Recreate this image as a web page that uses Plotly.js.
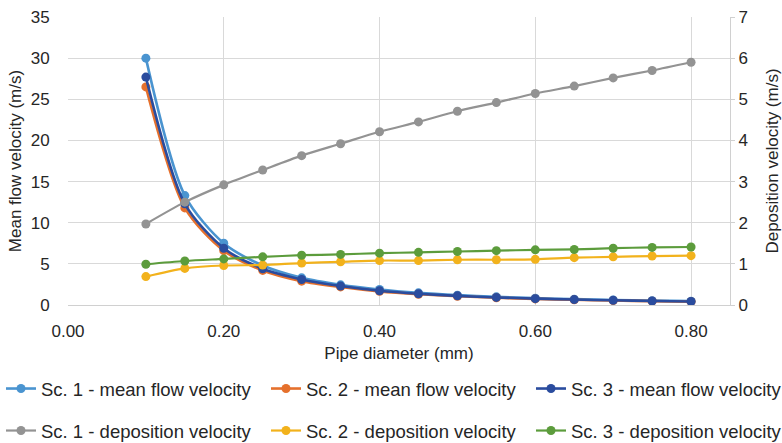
<!DOCTYPE html>
<html>
<head>
<meta charset="utf-8">
<script src="https://cdn.plot.ly/plotly-3.0.1.min.js"></script>
<style>
  html, body { margin: 0; padding: 0; background: #fff; }
  #chart { width: 782px; height: 443px; }
</style>
</head>
<body>
<div id="chart"></div>
<script>
// Pipe diameters (mm)
const diameter = [0.10, 0.15, 0.20, 0.25, 0.30, 0.35, 0.40, 0.45, 0.50, 0.55, 0.60, 0.65, 0.70, 0.75, 0.80];

// Mean flow velocity (m/s), left axis
const sc1Mean = [30.0, 13.3, 7.5, 4.8, 3.3, 2.45, 1.88, 1.48, 1.2, 0.99, 0.83, 0.71, 0.61, 0.53, 0.47];
const sc2Mean = [26.5, 11.8, 6.6, 4.2, 2.9, 2.2, 1.66, 1.31, 1.06, 0.88, 0.74, 0.63, 0.54, 0.47, 0.41];
const sc3Mean = [27.7, 12.3, 6.9, 4.4, 3.1, 2.3, 1.73, 1.37, 1.11, 0.92, 0.77, 0.66, 0.57, 0.49, 0.43];

// Deposition velocity (m/s), right axis
const sc1Dep = [1.97, 2.5, 2.92, 3.28, 3.63, 3.92, 4.21, 4.45, 4.71, 4.92, 5.14, 5.32, 5.52, 5.70, 5.90];
const sc2Dep = [0.69, 0.89, 0.96, 0.97, 1.02, 1.05, 1.08, 1.08, 1.10, 1.10, 1.11, 1.15, 1.17, 1.19, 1.20];
const sc3Dep = [0.99, 1.07, 1.12, 1.17, 1.21, 1.23, 1.26, 1.28, 1.30, 1.32, 1.34, 1.35, 1.38, 1.40, 1.41];

const xTicks = [0.0, 0.2, 0.4, 0.6, 0.8];

const FONT = 'Liberation Sans, Arial, sans-serif';
const TEXT = '#262626';

// Plot-area geometry in pixels (used to place the legend grid)
const W = 782, H = 443;
const M = { l: 68, r: 52, t: 17, b: 138 };
const plotW = W - M.l - M.r;
const plotH = H - M.t - M.b;

// Legend grid: three columns, two rows (pixel anchors)
const legendCols = [1, 266, 531];
const legendRows = [389, 431];

function series(name, y, color, axis, legend, width) {
  return {
    type: 'scatter', mode: 'lines+markers', name: name,
    x: diameter, y: y, yaxis: axis, legend: legend,
    line: { color: color, width: width, shape: 'spline', smoothing: 0.8 },
    marker: { color: color, size: 9 }
  };
}

const traces = [
  series('Sc. 1 - mean flow velocity', sc1Mean, '#4a94d0', 'y', 'legend', 2.6),
  series('Sc. 2 - mean flow velocity', sc2Mean, '#e5702c', 'y', 'legend2', 2.6),
  series('Sc. 3 - mean flow velocity', sc3Mean, '#2a4c9e', 'y', 'legend3', 2.6),
  series('Sc. 1 - deposition velocity', sc1Dep, '#939393', 'y2', 'legend4', 2.2),
  series('Sc. 2 - deposition velocity', sc2Dep, '#f2b21c', 'y2', 'legend5', 2.2),
  series('Sc. 3 - deposition velocity', sc3Dep, '#5c9c3c', 'y2', 'legend6', 2.2)
];

function legendAt(col, row) {
  return {
    orientation: 'h', xanchor: 'left', yanchor: 'middle',
    x: (legendCols[col] - M.l) / plotW,
    y: (H - M.b - legendRows[row]) / plotH,
    itemwidth: 30,
    font: { family: FONT, size: 18.5, color: TEXT },
    bgcolor: 'rgba(0,0,0,0)'
  };
}

const layout = {
  width: W, height: H,
  margin: { l: M.l, r: M.r, t: M.t, b: M.b, autoexpand: false },
  paper_bgcolor: '#fff', plot_bgcolor: '#fff',
  font: { family: FONT, size: 17, color: TEXT },
  showlegend: true,
  xaxis: {
    range: [0, 0.85], tickvals: xTicks, tickformat: '.2f',
    showgrid: true, gridcolor: '#d9d9d9', gridwidth: 1,
    zeroline: false, showline: true, linecolor: '#d0d0d0', linewidth: 1,
    ticks: 'outside', ticklen: 11, tickcolor: 'rgba(0,0,0,0)',
    tickfont: { family: FONT, size: 17, color: TEXT },
    title: { text: 'Pipe diameter (mm)', font: { family: FONT, size: 17, color: TEXT }, standoff: 6 }
  },
  yaxis: {
    range: [0, 35], dtick: 5,
    showgrid: true, gridcolor: '#d9d9d9', gridwidth: 1,
    zeroline: false, showline: false,
    ticks: 'outside', ticklen: 14, tickcolor: 'rgba(0,0,0,0)',
    tickfont: { family: FONT, size: 17, color: TEXT },
    title: { text: 'Mean flow velocity (m/s)', font: { family: FONT, size: 17, color: TEXT }, standoff: 4 }
  },
  yaxis2: {
    range: [0, 7], dtick: 1, overlaying: 'y', side: 'right',
    showgrid: false, zeroline: false,
    showline: true, linecolor: '#d0d0d0', linewidth: 1,
    ticks: 'outside', ticklen: 4, tickcolor: '#d0d0d0',
    tickfont: { family: FONT, size: 17, color: TEXT },
    title: { text: 'Deposition velocity (m/s)', font: { family: FONT, size: 17, color: TEXT }, standoff: 24 }
  },
  legend: legendAt(0, 0),
  legend2: legendAt(1, 0),
  legend3: legendAt(2, 0),
  legend4: legendAt(0, 1),
  legend5: legendAt(1, 1),
  legend6: legendAt(2, 1)
};

Plotly.newPlot('chart', traces, layout, { displayModeBar: false, staticPlot: true });
</script>
</body>
</html>
